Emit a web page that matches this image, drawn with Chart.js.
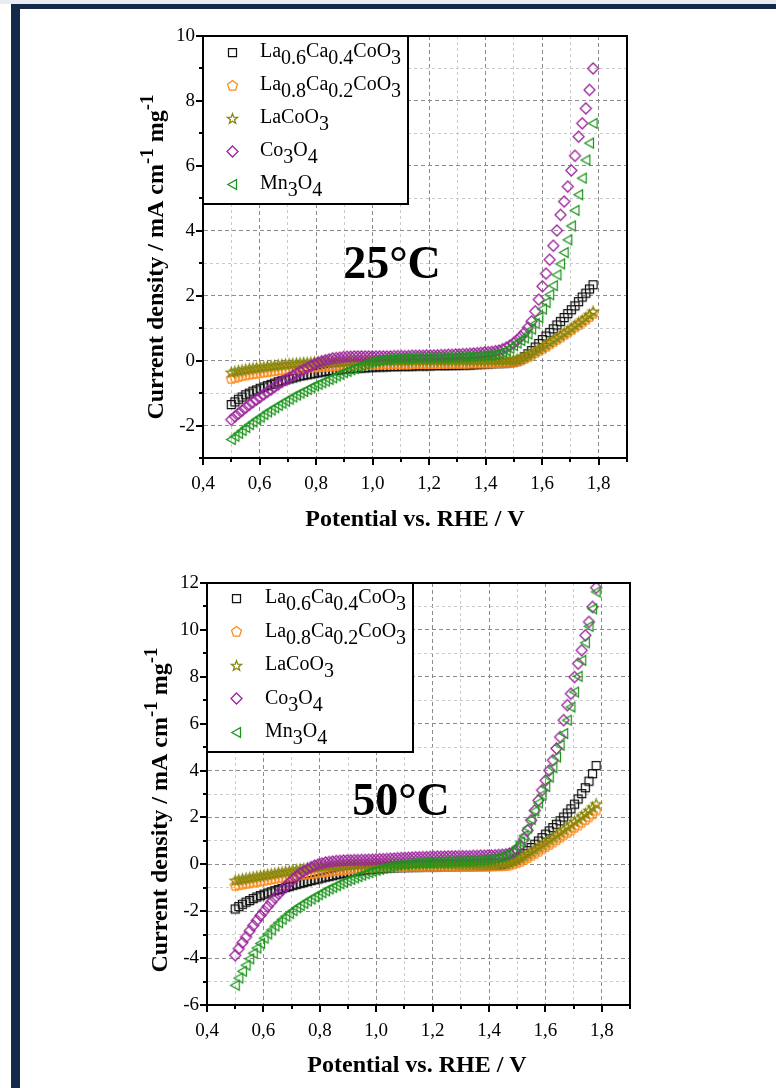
<!DOCTYPE html>
<html>
<head>
<meta charset="utf-8">
<title>Current density vs. potential at 25 °C and 50 °C</title>
<script src="https://cdn.jsdelivr.net/npm/chart.js@4.4.1/dist/chart.umd.min.js"></script>
<style>
  html, body { margin: 0; padding: 0; background: #fff; }
  body { position: relative; width: 776px; height: 1088px; overflow: hidden; }
  #haze { position: absolute; left: 0; top: 0; width: 776px; height: 4px; background: #e9ecf0; }
  .rule { position: absolute; background: #152a49; }
  #ruleTop { left: 11px; top: 4px; width: 765px; height: 5px; }
  #ruleLeft { left: 11px; top: 4px; width: 9px; height: 1084px; }
  canvas { position: absolute; left: 0; }
  #panel25 { top: 0; }
  #panel50 { top: 545px; }
</style>
</head>
<body>
<div id="haze"></div>
<div class="rule" id="ruleTop"></div>
<div class="rule" id="ruleLeft"></div>
<canvas id="panel25" width="776" height="545"></canvas>
<canvas id="panel50" width="776" height="543"></canvas>
<script>
// ---- data -------------------------------------------------------------
// potential vs. RHE / V
const potential = [
  0.5000,0.5128,0.5256,0.5384,0.5512,0.5640,0.5768,0.5896,0.6024,0.6152,
  0.6280,0.6408,0.6536,0.6664,0.6792,0.6920,0.7048,0.7176,0.7304,0.7432,
  0.7560,0.7688,0.7816,0.7944,0.8072,0.8200,0.8328,0.8456,0.8584,0.8712,
  0.8840,0.8968,0.9096,0.9224,0.9352,0.9480,0.9608,0.9736,0.9864,0.9992,
  1.0120,1.0248,1.0376,1.0504,1.0632,1.0760,1.0888,1.1016,1.1144,1.1272,
  1.1400,1.1528,1.1656,1.1784,1.1912,1.2040,1.2168,1.2296,1.2424,1.2552,
  1.2680,1.2808,1.2936,1.3064,1.3192,1.3320,1.3448,1.3576,1.3704,1.3832,
  1.3960,1.4088,1.4216,1.4344,1.4472,1.4600,1.4728,1.4856,1.4984,1.5112,
  1.5240,1.5368,1.5496,1.5624,1.5752,1.5880,1.6008,1.6136,1.6264,1.6392,
  1.6520,1.6648,1.6776,1.6904,1.7032,1.7160,1.7288,1.7416,1.7544,1.7672,
  1.7800
];

// current density / mA cm-1 mg-1 at 25 °C
const lca64_25 = [
  -1.35,-1.27,-1.19,-1.12,-1.05,-1.00,-0.94,-0.90,-0.85,-0.81,
  -0.77,-0.73,-0.69,-0.65,-0.62,-0.59,-0.56,-0.53,-0.50,-0.47,
  -0.45,-0.43,-0.41,-0.39,-0.37,-0.35,-0.33,-0.31,-0.30,-0.29,
  -0.28,-0.26,-0.25,-0.24,-0.23,-0.23,-0.22,-0.22,-0.21,-0.20,
  -0.20,-0.19,-0.19,-0.19,-0.18,-0.18,-0.18,-0.17,-0.17,-0.17,
  -0.17,-0.16,-0.16,-0.16,-0.16,-0.16,-0.15,-0.15,-0.15,-0.15,
  -0.15,-0.14,-0.14,-0.14,-0.13,-0.13,-0.13,-0.12,-0.12,-0.11,
  -0.10,-0.10,-0.09,-0.08,-0.08,-0.07,-0.07,-0.06,-0.04,-0.01,
  0.04,0.12,0.21,0.31,0.42,0.53,0.65,0.76,0.87,0.98,
  1.10,1.21,1.33,1.45,1.57,1.69,1.82,1.96,2.08,2.21,
  2.34
];
const lca82_25 = [
  -0.55,-0.52,-0.49,-0.46,-0.44,-0.42,-0.40,-0.39,-0.37,-0.35,
  -0.34,-0.32,-0.31,-0.29,-0.28,-0.27,-0.26,-0.24,-0.23,-0.23,
  -0.22,-0.21,-0.20,-0.19,-0.19,-0.18,-0.17,-0.17,-0.16,-0.15,
  -0.15,-0.14,-0.14,-0.13,-0.13,-0.12,-0.12,-0.12,-0.11,-0.11,
  -0.11,-0.11,-0.10,-0.10,-0.10,-0.10,-0.10,-0.10,-0.10,-0.10,
  -0.09,-0.09,-0.09,-0.09,-0.09,-0.09,-0.09,-0.09,-0.08,-0.08,
  -0.08,-0.08,-0.08,-0.08,-0.08,-0.08,-0.07,-0.07,-0.07,-0.07,
  -0.07,-0.07,-0.06,-0.06,-0.06,-0.05,-0.05,-0.05,-0.04,-0.01,
  0.02,0.07,0.12,0.18,0.25,0.31,0.37,0.44,0.52,0.59,
  0.66,0.73,0.81,0.88,0.96,1.04,1.11,1.19,1.27,1.36,
  1.45
];
const lco_25 = [
  -0.36,-0.33,-0.31,-0.29,-0.27,-0.25,-0.23,-0.22,-0.20,-0.19,
  -0.17,-0.16,-0.15,-0.13,-0.12,-0.11,-0.10,-0.09,-0.08,-0.07,
  -0.06,-0.06,-0.05,-0.04,-0.04,-0.03,-0.03,-0.03,-0.02,-0.02,
  -0.02,-0.02,-0.02,-0.01,-0.01,-0.01,-0.01,-0.01,0.00,0.00,
  0.00,0.00,0.01,0.01,0.01,0.01,0.01,0.01,0.01,0.01,
  0.02,0.02,0.02,0.02,0.02,0.02,0.02,0.02,0.02,0.02,
  0.02,0.02,0.02,0.02,0.02,0.02,0.02,0.02,0.02,0.02,
  0.02,0.02,0.02,0.02,0.02,0.02,0.02,0.02,0.03,0.05,
  0.08,0.12,0.17,0.23,0.30,0.36,0.42,0.49,0.57,0.64,
  0.71,0.78,0.86,0.93,1.01,1.09,1.17,1.25,1.33,1.42,
  1.52
];
const co_25 = [
  -1.82,-1.72,-1.63,-1.54,-1.45,-1.36,-1.28,-1.20,-1.12,-1.04,
  -0.96,-0.89,-0.81,-0.73,-0.66,-0.59,-0.53,-0.46,-0.40,-0.34,
  -0.28,-0.22,-0.16,-0.11,-0.06,-0.02,0.01,0.04,0.07,0.08,
  0.09,0.11,0.12,0.12,0.13,0.13,0.13,0.13,0.13,0.13,
  0.13,0.13,0.13,0.13,0.13,0.14,0.14,0.14,0.14,0.14,
  0.15,0.15,0.15,0.15,0.16,0.16,0.16,0.16,0.17,0.17,
  0.18,0.18,0.19,0.19,0.20,0.20,0.21,0.22,0.23,0.24,
  0.25,0.26,0.27,0.29,0.31,0.35,0.40,0.46,0.54,0.63,
  0.74,0.86,1.02,1.21,1.52,1.88,2.29,2.68,3.11,3.54,
  4.01,4.49,4.90,5.36,5.86,6.31,6.90,7.31,7.77,8.34,
  9.00
];
const mn_25 = [
  -2.43,-2.33,-2.24,-2.15,-2.06,-1.97,-1.89,-1.81,-1.74,-1.66,
  -1.58,-1.52,-1.45,-1.38,-1.31,-1.25,-1.19,-1.12,-1.06,-1.00,
  -0.95,-0.89,-0.83,-0.78,-0.73,-0.68,-0.63,-0.58,-0.53,-0.47,
  -0.42,-0.37,-0.33,-0.28,-0.24,-0.19,-0.15,-0.11,-0.07,-0.04,
  -0.02,0.01,0.03,0.04,0.05,0.06,0.06,0.07,0.07,0.07,
  0.08,0.08,0.08,0.08,0.08,0.09,0.09,0.09,0.09,0.09,
  0.10,0.10,0.10,0.11,0.11,0.12,0.12,0.13,0.14,0.14,
  0.15,0.16,0.17,0.19,0.22,0.26,0.31,0.38,0.46,0.54,
  0.62,0.70,0.82,0.97,1.14,1.33,1.59,1.79,2.03,2.31,
  2.64,2.98,3.33,3.72,4.15,4.63,5.11,5.62,6.18,6.70,
  7.31
];

// current density / mA cm-1 mg-1 at 50 °C
const lca64_50 = [
  -1.90,-1.80,-1.70,-1.61,-1.54,-1.46,-1.39,-1.33,-1.27,-1.22,
  -1.17,-1.12,-1.07,-1.03,-0.98,-0.94,-0.89,-0.85,-0.81,-0.77,
  -0.73,-0.69,-0.65,-0.62,-0.58,-0.54,-0.51,-0.48,-0.44,-0.41,
  -0.38,-0.36,-0.33,-0.31,-0.28,-0.26,-0.24,-0.22,-0.21,-0.19,
  -0.18,-0.17,-0.15,-0.14,-0.14,-0.13,-0.13,-0.12,-0.12,-0.11,
  -0.11,-0.11,-0.10,-0.10,-0.10,-0.10,-0.10,-0.09,-0.09,-0.09,
  -0.09,-0.09,-0.08,-0.08,-0.08,-0.08,-0.08,-0.07,-0.07,-0.07,
  -0.06,-0.06,-0.05,-0.04,-0.01,0.02,0.08,0.15,0.25,0.35,
  0.47,0.59,0.72,0.86,1.00,1.14,1.29,1.43,1.57,1.71,
  1.86,2.02,2.19,2.37,2.57,2.79,3.02,3.27,3.55,3.87,
  4.22
];
const lca82_50 = [
  -0.90,-0.87,-0.84,-0.81,-0.79,-0.76,-0.73,-0.71,-0.68,-0.65,
  -0.63,-0.60,-0.57,-0.55,-0.53,-0.51,-0.49,-0.47,-0.44,-0.42,
  -0.41,-0.39,-0.37,-0.35,-0.33,-0.31,-0.29,-0.27,-0.25,-0.24,
  -0.22,-0.20,-0.18,-0.17,-0.16,-0.14,-0.13,-0.12,-0.12,-0.11,
  -0.10,-0.10,-0.10,-0.09,-0.09,-0.09,-0.09,-0.09,-0.08,-0.08,
  -0.08,-0.08,-0.08,-0.08,-0.08,-0.08,-0.07,-0.07,-0.07,-0.07,
  -0.07,-0.07,-0.07,-0.07,-0.07,-0.07,-0.07,-0.07,-0.07,-0.07,
  -0.07,-0.06,-0.06,-0.06,-0.06,-0.05,-0.02,0.02,0.07,0.13,
  0.21,0.29,0.38,0.47,0.56,0.66,0.76,0.85,0.95,1.05,
  1.16,1.26,1.36,1.46,1.58,1.68,1.80,1.91,2.03,2.16,
  2.32
];
const lco_50 = [
  -0.68,-0.65,-0.62,-0.59,-0.57,-0.54,-0.51,-0.49,-0.46,-0.43,
  -0.41,-0.38,-0.35,-0.33,-0.30,-0.28,-0.25,-0.23,-0.20,-0.18,
  -0.16,-0.14,-0.12,-0.10,-0.08,-0.07,-0.06,-0.05,-0.04,-0.03,
  -0.02,-0.01,-0.01,0.00,0.00,0.00,0.01,0.01,0.01,0.01,
  0.02,0.02,0.02,0.02,0.02,0.02,0.03,0.03,0.03,0.03,
  0.03,0.03,0.03,0.03,0.03,0.03,0.03,0.03,0.03,0.03,
  0.03,0.03,0.03,0.03,0.03,0.03,0.03,0.03,0.03,0.03,
  0.03,0.03,0.03,0.03,0.04,0.05,0.09,0.14,0.20,0.27,
  0.36,0.45,0.54,0.64,0.74,0.84,0.94,1.05,1.15,1.26,
  1.37,1.48,1.60,1.71,1.83,1.94,2.06,2.17,2.30,2.44,
  2.58
];
const co_50 = [
  -3.88,-3.60,-3.34,-3.10,-2.84,-2.61,-2.39,-2.18,-1.99,-1.80,
  -1.61,-1.43,-1.26,-1.09,-0.93,-0.78,-0.64,-0.50,-0.39,-0.29,
  -0.20,-0.12,-0.05,0.00,0.04,0.08,0.10,0.12,0.14,0.15,
  0.16,0.17,0.17,0.18,0.18,0.19,0.19,0.20,0.20,0.21,
  0.22,0.22,0.23,0.24,0.25,0.26,0.27,0.28,0.28,0.29,
  0.30,0.30,0.31,0.31,0.32,0.32,0.33,0.33,0.33,0.34,
  0.34,0.34,0.35,0.35,0.35,0.35,0.36,0.36,0.37,0.37,
  0.38,0.38,0.39,0.40,0.41,0.43,0.46,0.52,0.62,0.80,
  1.08,1.45,1.88,2.30,2.73,3.16,3.58,4.01,4.44,4.94,
  5.43,6.15,6.79,7.28,7.99,8.56,9.13,9.77,10.34,10.98,
  11.80
];
const mn_50 = [
  -5.16,-4.85,-4.56,-4.30,-4.03,-3.79,-3.57,-3.37,-3.15,-2.97,
  -2.80,-2.63,-2.49,-2.34,-2.21,-2.09,-1.97,-1.85,-1.76,-1.66,
  -1.56,-1.48,-1.39,-1.30,-1.21,-1.13,-1.05,-0.98,-0.91,-0.83,
  -0.76,-0.70,-0.64,-0.58,-0.52,-0.46,-0.40,-0.35,-0.30,-0.25,
  -0.21,-0.16,-0.12,-0.09,-0.06,-0.03,-0.01,0.00,0.02,0.04,
  0.05,0.06,0.07,0.08,0.08,0.09,0.10,0.10,0.11,0.11,
  0.12,0.12,0.13,0.13,0.14,0.14,0.15,0.16,0.17,0.18,
  0.20,0.23,0.26,0.30,0.35,0.40,0.47,0.58,0.74,0.95,
  1.22,1.55,1.92,2.28,2.62,2.96,3.32,3.72,4.12,4.58,
  5.08,5.58,6.15,6.71,7.35,8.02,8.70,9.45,10.15,10.90,
  11.62
];

// axis ticks and their labels
const potentialTicks = [0.4,0.5,0.6,0.7,0.8,0.9,1.0,1.1,1.2,1.3,1.4,1.5,1.6,1.7,1.8,1.9];
const potentialTickLabels = ['0,4','','0,6','','0,8','','1,0','','1,2','','1,4','','1,6','','1,8',''];
const currentTicks25 = [-3,-2,-1,0,1,2,3,4,5,6,7,8,9,10];
const currentTickLabels25 = ['','-2','','0','','2','','4','','6','','8','','10'];
const currentTicks50 = [-6,-5,-4,-3,-2,-1,0,1,2,3,4,5,6,7,8,9,10,11,12];
const currentTickLabels50 = ['-6','','-4','','-2','','0','','2','','4','','6','','8','','10','','12'];

// series names as [text, 'sub' | ''] runs
const seriesNames = [
  [['La',''],['0.6','sub'],['Ca',''],['0.4','sub'],['CoO',''],['3','sub']],
  [['La',''],['0.8','sub'],['Ca',''],['0.2','sub'],['CoO',''],['3','sub']],
  [['LaCoO',''],['3','sub']],
  [['Co',''],['3','sub'],['O',''],['4','sub']],
  [['Mn',''],['3','sub'],['O',''],['4','sub']]
];

// ---- styling ------------------------------------------------------------
const SERIF = '"Liberation Serif", "Times New Roman", Times, serif';
Chart.defaults.font.family = SERIF;
Chart.defaults.color = '#000';

const seriesShapes = ['square', 'pentagon', 'star', 'diamond', 'triangleLeft'];
const seriesColors = ['#111111', '#ff8a1c', '#86860a', '#9a229a', '#1f951f'];

// open marker glyphs, used both for the points and for the legend
function makeMarker(shape, color) {
  const c = document.createElement('canvas');
  c.width = 15; c.height = 15;
  const g = c.getContext('2d');
  const cx = 7.5, cy = 7.5;
  g.strokeStyle = color;
  g.lineWidth = 1.25;
  g.lineJoin = 'miter';
  g.beginPath();
  if (shape === 'square') {
    g.rect(3.5, 3.5, 8, 8);
  } else if (shape === 'diamond') {
    g.moveTo(cx, cy - 5.5); g.lineTo(cx + 5.5, cy); g.lineTo(cx, cy + 5.5); g.lineTo(cx - 5.5, cy);
    g.closePath();
  } else if (shape === 'triangleLeft') {
    g.moveTo(2.8, cy); g.lineTo(11.5, cy - 4.9); g.lineTo(11.5, cy + 4.9);
    g.closePath();
  } else if (shape === 'pentagon') {
    for (let k = 0; k < 5; k++) {
      const a = -Math.PI / 2 + k * 2 * Math.PI / 5;
      const px = cx + 5.2 * Math.cos(a), py = cy + 0.3 + 5.2 * Math.sin(a);
      if (k === 0) g.moveTo(px, py); else g.lineTo(px, py);
    }
    g.closePath();
  } else if (shape === 'star') {
    for (let k = 0; k < 10; k++) {
      const a = -Math.PI / 2 + k * Math.PI / 5;
      const r = k % 2 === 0 ? 5.4 : 2.2;
      const px = cx + r * Math.cos(a), py = cy + 0.5 + r * Math.sin(a);
      if (k === 0) g.moveTo(px, py); else g.lineTo(px, py);
    }
    g.closePath();
  }
  g.stroke();
  return c;
}
const markers = seriesShapes.map((s, i) => makeMarker(s, seriesColors[i]));

// draws runs of normal / shifted text from x along baseline y
function drawRuns(ctx, runs, x, y, center) {
  let w = 0;
  runs.forEach(r => { ctx.font = r.font; w += ctx.measureText(r.text).width; });
  let cx = center ? x - w / 2 : x;
  runs.forEach(r => {
    ctx.font = r.font;
    ctx.fillText(r.text, cx, y + r.dy);
    cx += ctx.measureText(r.text).width;
  });
}

// frame, tick marks, legend, axis titles and temperature tag
const panelDecor = {
  id: 'panelDecor',
  afterDraw(chart, args, o) {
    const ctx = chart.ctx;
    const a = chart.chartArea;
    const xs = chart.scales.x, ys = chart.scales.y;
    ctx.save();
    ctx.strokeStyle = '#000';
    ctx.fillStyle = '#000';

    // tick marks, longer at labelled values
    ctx.lineWidth = 2;
    ctx.beginPath();
    potentialTicks.forEach((v, i) => {
      const px = Math.round(xs.getPixelForValue(v));
      ctx.moveTo(px, a.bottom);
      ctx.lineTo(px, a.bottom + (potentialTickLabels[i] ? 7 : 4));
    });
    o.yTicks.forEach((v, i) => {
      const py = Math.round(ys.getPixelForValue(v));
      ctx.moveTo(a.left, py);
      ctx.lineTo(a.left - (o.yLabels[i] ? 7 : 4), py);
    });
    ctx.stroke();

    // box frame
    ctx.lineWidth = 2;
    ctx.strokeRect(a.left, a.top, a.right - a.left, a.bottom - a.top);

    // legend
    const lb = o.legend;
    ctx.fillStyle = '#fff';
    ctx.fillRect(a.left, a.top, lb.w, lb.h);
    ctx.strokeRect(a.left, a.top, lb.w, lb.h);
    ctx.fillStyle = '#000';
    ctx.textAlign = 'left';
    ctx.textBaseline = 'alphabetic';
    seriesNames.forEach((parts, i) => {
      const my = a.top + lb.first + i * lb.step;
      const mk = markers[i];
      ctx.drawImage(mk, Math.round(a.left + lb.markerX - mk.width / 2), Math.round(my - mk.height / 2));
      const runs = parts.map(p => ({ text: p[0], font: '20px ' + SERIF, dy: p[1] === 'sub' ? 7 : 0 }));
      drawRuns(ctx, runs, a.left + lb.textX, my + 5, false);
    });

    // temperature tag
    ctx.font = 'bold 46px ' + SERIF;
    ctx.textAlign = 'center';
    ctx.fillText(o.tag, o.tagX, o.tagY);

    // x title
    ctx.font = 'bold 24px ' + SERIF;
    ctx.fillText('Potential vs. RHE / V', o.xTitleX, o.xTitleY);

    // y title (rotated)
    ctx.translate(o.yTitleX, o.yTitleY);
    ctx.rotate(-Math.PI / 2);
    ctx.textAlign = 'left';
    const big = 'bold 24px ' + SERIF, sup = 'bold 19px ' + SERIF;
    drawRuns(ctx, [
      { text: 'Current density / mA cm', font: big, dy: 0 },
      { text: '-1', font: sup, dy: -10 },
      { text: ' mg', font: big, dy: 0 },
      { text: '-1', font: sup, dy: -10 }
    ], 0, 0, true);
    ctx.restore();
  }
};

function buildPanel(canvasId, series, cfg) {
  const canvas = document.getElementById(canvasId);
  const W = canvas.width, H = canvas.height;
  const datasets = series.map((vals, i) => ({
    label: seriesNames[i].map(p => p[0]).join(''),
    data: potential.map((x, k) => ({ x: x, y: vals[k] })),
    pointStyle: markers[i],
    pointRadius: 5,
    pointHoverRadius: 5,
    showLine: false,
    order: series.length - i
  }));
  const isMajorX = ctx => !!potentialTickLabels[ctx.index];
  const isMajorY = ctx => !!cfg.yLabels[ctx.index];
  return new Chart(canvas, {
    type: 'scatter',
    data: { datasets },
    plugins: [panelDecor],
    options: {
      responsive: false,
      animation: false,
      devicePixelRatio: 1,
      events: [],
      layout: { padding: { left: 0, top: cfg.area.top, right: W - cfg.area.right, bottom: 0 } },
      plugins: {
        legend: { display: false },
        tooltip: { enabled: false },
        panelDecor: cfg
      },
      scales: {
        x: {
          type: 'linear',
          min: 0.4, max: 1.9,
          afterBuildTicks: s => { s.ticks = potentialTicks.map(v => ({ value: v })); },
          afterFit: s => { s.height = H - cfg.area.bottom; },
          ticks: {
            autoSkip: false, maxRotation: 0, padding: 9,
            font: { size: 19 }, color: '#000',
            callback: (v, i) => potentialTickLabels[i]
          },
          grid: {
            color: ctx => isMajorX(ctx) ? '#8c8c8c' : '#cacaca',
            lineWidth: 1,
            drawTicks: true, tickLength: 6, tickColor: 'rgba(0,0,0,0)'
          },
          border: {
            display: true, color: '#000', width: 2,
            dash: ctx => ctx.type === 'tick' ? (isMajorX(ctx) ? [4, 3] : [3, 3]) : []
          }
        },
        y: {
          type: 'linear',
          min: cfg.yTicks[0], max: cfg.yTicks[cfg.yTicks.length - 1],
          afterBuildTicks: s => { s.ticks = cfg.yTicks.map(v => ({ value: v })); },
          afterFit: s => { s.width = cfg.area.left; },
          ticks: {
            autoSkip: false, padding: 2,
            font: { size: 19 }, color: '#000',
            callback: (v, i) => cfg.yLabels[i]
          },
          grid: {
            color: ctx => isMajorY(ctx) ? '#8c8c8c' : '#cacaca',
            lineWidth: 1,
            drawTicks: true, tickLength: 6, tickColor: 'rgba(0,0,0,0)'
          },
          border: {
            display: true, color: '#000', width: 2,
            dash: ctx => ctx.type === 'tick' ? (isMajorY(ctx) ? [4, 3] : [3, 3]) : []
          }
        }
      }
    }
  });
}

buildPanel('panel25', [lca64_25, lca82_25, lco_25, co_25, mn_25], {
  area: { left: 203, top: 36, right: 627, bottom: 458 },
  yTicks: currentTicks25, yLabels: currentTickLabels25,
  legend: { w: 205, h: 168, first: 16, step: 33, markerX: 29, textX: 57 },
  tag: '25°C', tagX: 392, tagY: 278,
  xTitleX: 415, xTitleY: 526,
  yTitleX: 163, yTitleY: 257
});

buildPanel('panel50', [lca64_50, lca82_50, lco_50, co_50, mn_50], {
  area: { left: 207, top: 38, right: 630, bottom: 460 },
  yTicks: currentTicks50, yLabels: currentTickLabels50,
  legend: { w: 206, h: 169, first: 15, step: 33.5, markerX: 29, textX: 58 },
  tag: '50°C', tagX: 401, tagY: 270,
  xTitleX: 417, xTitleY: 527,
  yTitleX: 167, yTitleY: 265
});
</script>
</body>
</html>
